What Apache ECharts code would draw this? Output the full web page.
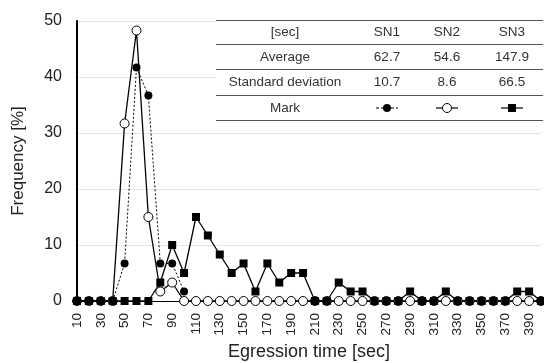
<!DOCTYPE html>
<html>
<head>
<meta charset="utf-8">
<script src="https://cdn.jsdelivr.net/npm/echarts@6/dist/echarts.min.js"></script>
<style>
  html, body { margin: 0; padding: 0; background: #fff; }
  #main { width: 544px; height: 363px; }
</style>
</head>
<body>
<div id="main"></div>
<script>
// egression time categories [sec]
var times = ['10','20','30','40','50','60','70','80','90','100',
             '110','120','130','140','150','160','170','180','190','200',
             '210','220','230','240','250','260','270','280','290','300',
             '310','320','330','340','350','360','370','380','390','400'];

// frequency [%]
var sn1 = [0, 0, 0, 0, 6.7, 41.7, 36.7, 6.7, 6.7, 1.7];
var sn2 = [0, 0, 0, 0, 31.7, 48.3, 15, 1.7, 3.3, 0,
           0, 0, 0, 0, 0, 0, 0, 0, 0, 0,
           0, 0, 0, 0, 0, 0, 0, 0, 0, 0,
           0, 0, 0, 0, 0, 0, 0, 0, 0, 0];
var sn3 = [0, 0, 0, 0, 0, 0, 0, 3.3, 10, 5,
           15, 11.7, 8.3, 5, 6.7, 1.7, 6.7, 3.3, 5, 5,
           0, 0, 3.3, 1.7, 1.7, 0, 0, 0, 1.7, 0,
           0, 1.7, 0, 0, 0, 0, 0, 1.7, 1.7, 0];

// summary table
var tableHead = ['[sec]', 'SN1', 'SN2', 'SN3'];
var averages = ['62.7', '54.6', '147.9'];
var stdevs = ['10.7', '8.6', '66.5'];

var FONT = '"Liberation Sans", Arial, sans-serif';
var chart = echarts.init(document.getElementById('main'));

// table layout
var tblLeft = 216, tblRight = 543;
var rowLines = [20.5, 44.5, 69.5, 95.5, 120.5];
var colX = [285, 387, 447, 512];

var graphics = [];
graphics.push({
    type: 'rect', z: 50,
    shape: {x: tblLeft, y: rowLines[0], width: tblRight - tblLeft, height: rowLines[4] - rowLines[0]},
    style: {fill: '#fff'}
});
rowLines.forEach(function (y) {
    graphics.push({
        type: 'line', z: 51,
        shape: {x1: tblLeft, y1: y, x2: tblRight, y2: y},
        style: {stroke: '#555', lineWidth: 1}
    });
});
function cell(txt, x, row) {
    graphics.push({
        type: 'text', z: 52,
        x: x, y: (rowLines[row] + rowLines[row + 1]) / 2,
        style: {text: txt, fill: '#333', font: '13.5px ' + FONT, align: 'center', verticalAlign: 'middle'}
    });
}
tableHead.forEach(function (t, i) { cell(t, colX[i], 0); });
cell('Average', colX[0], 1);
averages.forEach(function (t, i) { cell(t, colX[i + 1], 1); });
cell('Standard deviation', colX[0], 2);
stdevs.forEach(function (t, i) { cell(t, colX[i + 1], 2); });
cell('Mark', colX[0], 3);

// mark samples
var my = (rowLines[3] + rowLines[4]) / 2;
graphics.push({type: 'line', z: 52, shape: {x1: colX[1] - 11, y1: my, x2: colX[1] + 11, y2: my},
    style: {stroke: '#000', lineWidth: 1.2, lineDash: [3, 2]}});
graphics.push({type: 'circle', z: 53, shape: {cx: colX[1], cy: my, r: 4}, style: {fill: '#000'}});
graphics.push({type: 'line', z: 52, shape: {x1: colX[2] - 11, y1: my, x2: colX[2] + 11, y2: my},
    style: {stroke: '#000', lineWidth: 1.2}});
graphics.push({type: 'circle', z: 53, shape: {cx: colX[2], cy: my, r: 4.5}, style: {fill: '#fff', stroke: '#000', lineWidth: 1}});
graphics.push({type: 'line', z: 52, shape: {x1: colX[3] - 11, y1: my, x2: colX[3] + 11, y2: my},
    style: {stroke: '#000', lineWidth: 1.2}});
graphics.push({type: 'rect', z: 53, shape: {x: colX[3] - 4, y: my - 4, width: 8, height: 8}, style: {fill: '#000'}});

var option = {
    animation: false,
    backgroundColor: '#fff',
    textStyle: {fontFamily: FONT},
    grid: {left: 77, right: 3, top: 21, bottom: 62, outerBoundsMode: 'none'},
    xAxis: {
        type: 'category',
        data: times,
        boundaryGap: false,
        name: 'Egression time [sec]',
        nameLocation: 'middle',
        nameGap: 42,
        nameTextStyle: {fontSize: 18, color: '#222', fontFamily: FONT},
        axisLine: {lineStyle: {color: '#000', width: 1}},
        axisTick: {show: false},
        axisLabel: {interval: 1, rotate: 90, margin: 12, fontSize: 13.5, color: '#222', fontFamily: FONT}
    },
    yAxis: {
        type: 'value',
        min: 0, max: 50, interval: 10,
        name: 'Frequency [%]',
        nameLocation: 'middle',
        nameGap: 50,
        nameTextStyle: {fontSize: 17, color: '#222', fontFamily: FONT},
        axisLine: {show: true, lineStyle: {color: '#000', width: 2}},
        axisTick: {show: false},
        axisLabel: {margin: 15, fontSize: 16, color: '#222', fontFamily: FONT},
        splitLine: {lineStyle: {color: '#e4e4e4', width: 1}}
    },
    series: [
        {
            name: 'SN2', type: 'line', data: sn2,
            symbol: 'circle', symbolSize: 9, showAllSymbol: true,
            lineStyle: {color: '#000', width: 1.3},
            itemStyle: {color: '#fff', borderColor: '#000', borderWidth: 1}
        },
        {
            name: 'SN3', type: 'line', data: sn3,
            symbol: 'rect', symbolSize: 8, showAllSymbol: true,
            lineStyle: {color: '#000', width: 1.3},
            itemStyle: {color: '#000'}
        },
        {
            name: 'SN1', type: 'line', data: sn1,
            symbol: 'circle', symbolSize: 8, showAllSymbol: true,
            lineStyle: {color: '#000', width: 1, type: [2, 2]},
            itemStyle: {color: '#000'}
        }
    ],
    graphic: graphics
};
chart.setOption(option);
</script>
</body>
</html>
